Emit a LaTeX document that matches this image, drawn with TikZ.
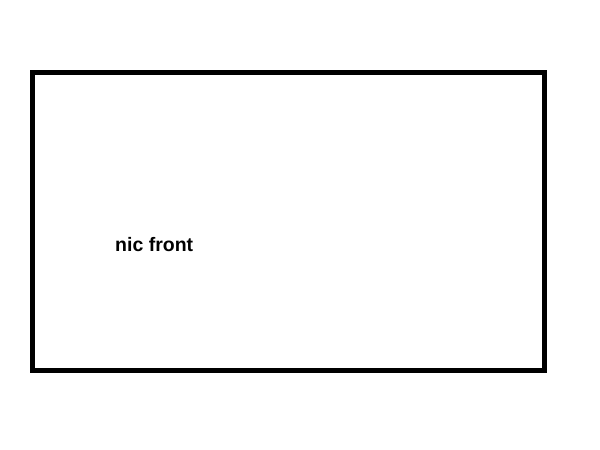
\documentclass[tikz,border=0pt]{standalone}
\usepackage{fontspec}
\setmainfont{Liberation Sans}
\begin{document}
\begin{tikzpicture}[x=1pt,y=-1pt,
  frame/.style={draw=black,line width=5pt},
  label/.style={font=\fontsize{19.5}{22}\bfseries\selectfont,inner sep=0pt,anchor=base west}]
\useasboundingbox (0,0) rectangle (600,450);
\node[frame,minimum width=511.5pt,minimum height=298pt,inner sep=0pt,outer sep=0pt,anchor=north west] (box) at (32.5,72.5) {};
\node[label] (txt) at (115,251.5) {nic front};
\end{tikzpicture}
\end{document}
